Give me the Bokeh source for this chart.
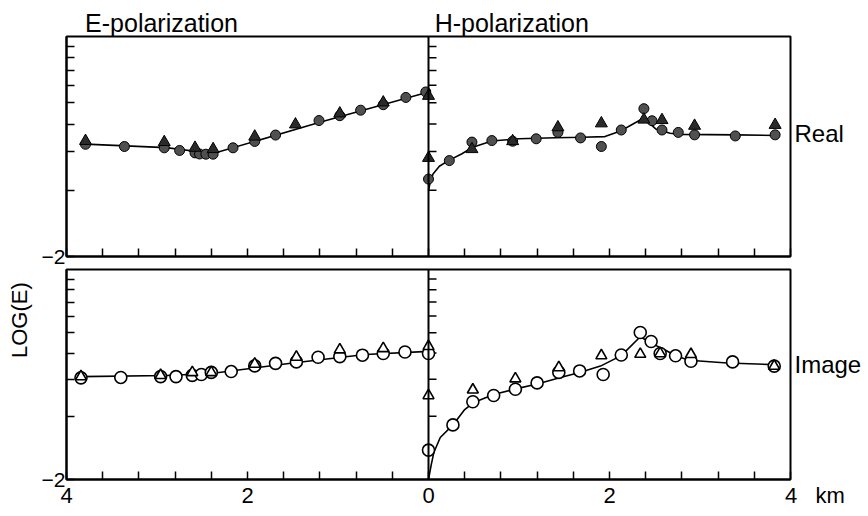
import math
from bokeh.plotting import figure
from bokeh.models import Range1d, FixedTicker, CustomJSTickFormatter, Span, LinearAxis
from bokeh.layouts import column
from bokeh.embed import file_html
from bokeh.resources import INLINE

# ---------------- data (LOG(E) values) ----------------
# Real part, E-polarization (x < 0)
real_e_circ_x = [-3.79, -3.36, -2.92, -2.75, -2.58, -2.53, -2.46, -2.38, -2.16, -1.92, -1.69, -1.21, -0.98, -0.75, -0.50, -0.25, -0.03]
real_e_circ_y = [-1.49, -1.50, -1.506, -1.518, -1.529, -1.534, -1.535, -1.535, -1.506, -1.477, -1.448, -1.382, -1.36, -1.335, -1.31, -1.277, -1.252]
real_e_tri_x = [-3.79, -2.92, -2.58, -2.38, -1.92, -1.47, -0.98, -0.50, 0.0]
real_e_tri_y = [-1.475, -1.48, -1.506, -1.512, -1.455, -1.40, -1.35, -1.30, -1.27]
real_e_curve_x = [-3.79, -2.9, -2.38, -1.2, 0.0]
real_e_curve_y = [-1.489, -1.505, -1.532, -1.39, -1.252]

# Real part, H-polarization (x > 0)
real_h_circ_x = [0.0, 0.23, 0.48, 0.70, 0.93, 1.19, 1.43, 1.68, 1.91, 2.13, 2.38, 2.47, 2.58, 2.76, 2.94, 3.39, 3.83]
real_h_circ_y = [-1.648, -1.564, -1.48, -1.473, -1.476, -1.465, -1.436, -1.461, -1.50, -1.425, -1.328, -1.383, -1.425, -1.436, -1.447, -1.452, -1.447]
real_h_tri_x = [0.0, 0.48, 0.93, 1.43, 1.91, 2.38, 2.58, 2.94, 3.83]
real_h_tri_y = [-1.552, -1.512, -1.476, -1.413, -1.395, -1.378, -1.38, -1.406, -1.402]
real_h_curve_x = [0.0, 0.02, 0.05, 0.12, 0.23, 0.37, 0.48, 0.70, 1.0, 1.4, 1.7, 1.95, 2.13, 2.25, 2.38, 2.51, 2.67, 2.8, 3.4, 3.83]
real_h_curve_y = [-1.70, -1.66, -1.625, -1.59, -1.562, -1.533, -1.505, -1.475, -1.465, -1.46, -1.458, -1.455, -1.428, -1.40, -1.37, -1.42, -1.44, -1.445, -1.447, -1.45]

# Imaginary part, E-polarization
imag_e_circ_x = [-3.84, -3.40, -2.96, -2.79, -2.61, -2.51, -2.40, -2.18, -1.92, -1.69, -1.46, -1.22, -0.98, -0.73, -0.50, -0.26, 0.0]
imag_e_circ_y = [-1.516, -1.514, -1.51, -1.51, -1.504, -1.50, -1.49, -1.486, -1.459, -1.447, -1.44, -1.418, -1.415, -1.408, -1.40, -1.393, -1.40]
imag_e_tri_x = [-3.84, -2.96, -2.61, -2.40, -1.92, -1.46, -0.98, -0.50, 0.0]
imag_e_tri_y = [-1.51, -1.504, -1.49, -1.49, -1.45, -1.417, -1.382, -1.376, -1.366]
imag_e_curve_x = [-3.84, -2.9, -2.4, -1.5, -0.7, 0.0]
imag_e_curve_y = [-1.51, -1.505, -1.495, -1.445, -1.405, -1.39]

# Imaginary part, H-polarization
imag_h_circ_x = [0.0, 0.27, 0.49, 0.72, 0.96, 1.20, 1.44, 1.67, 1.93, 2.13, 2.34, 2.46, 2.56, 2.73, 2.90, 3.36, 3.82]
imag_h_circ_y = [-1.86, -1.74, -1.63, -1.60, -1.57, -1.54, -1.49, -1.483, -1.50, -1.407, -1.30, -1.343, -1.40, -1.411, -1.437, -1.44, -1.46]
imag_h_tri_x = [0.0, 0.49, 0.96, 1.44, 1.91, 2.34, 2.56, 2.90, 3.82]
imag_h_tri_y = [-1.60, -1.573, -1.52, -1.467, -1.41, -1.403, -1.40, -1.404, -1.46]
imag_h_curve_x = [0.0, 0.03, 0.06, 0.13, 0.27, 0.4, 0.5, 0.72, 1.0, 1.2, 1.5, 1.67, 1.9, 2.13, 2.34, 2.47, 2.6, 2.73, 2.88, 3.3, 3.82]
imag_h_curve_y = [-2.0, -1.93, -1.87, -1.80, -1.74, -1.667, -1.633, -1.595, -1.565, -1.545, -1.51, -1.49, -1.46, -1.41, -1.32, -1.353, -1.38, -1.411, -1.432, -1.445, -1.453]

# axis ticks and texts
x_major_ticks = [-4, -2, 0, 2, 4]
x_minor_ticks = [-3.6, -3.2, -2.8, -2.4, -1.6, -1.2, -0.8, -0.4, 0.4, 0.8, 1.2, 1.6, 2.4, 2.8, 3.2, 3.6]
y_major_ticks = [-2]
y_minor_ticks = [math.log10(k) - 2 for k in range(2, 10)]
side_titles = ["E-polarization", "H-polarization"]
panel_names = ["Real", "Image"]
y_title = "LOG(E)"
x_unit = "km"

FONT = "'Liberation Sans', Arial, sans-serif"
NB = "\u00a0"


def bare_axis(ticks, text, **kw):
    ax = LinearAxis(ticker=FixedTicker(ticks=ticks),
                    formatter=CustomJSTickFormatter(args=dict(t=text), code="return t;"),
                    major_tick_in=0, major_tick_out=0, minor_tick_in=0, minor_tick_out=0,
                    axis_line_color=None, major_label_text_font=FONT,
                    major_label_text_color="black", **kw)
    return ax


def make_panel(frame_h, top, bottom, show_xlabels):
    p = figure(frame_width=724, frame_height=frame_h,
               x_range=Range1d(-4, 4), y_range=Range1d(-2, -1),
               output_backend="svg", toolbar_location=None,
               min_border_left=66, min_border_right=62,
               min_border_top=top, min_border_bottom=bottom)
    p.xgrid.visible = False
    p.ygrid.visible = False
    p.outline_line_color = "black"
    p.outline_line_width = 2
    p.background_fill_color = "white"
    p.border_fill_color = "white"

    xa = p.xaxis[0]
    xa.ticker = FixedTicker(ticks=x_major_ticks, minor_ticks=x_minor_ticks)
    xa.major_tick_in = 8
    xa.major_tick_out = 0
    xa.minor_tick_in = 8
    xa.minor_tick_out = 0
    xa.axis_line_width = 2
    xa.major_tick_line_width = 1.5
    xa.minor_tick_line_width = 1.5
    xa.major_label_text_font = FONT
    xa.major_label_text_color = "black"
    if show_xlabels:
        pad = NB * 8
        xa.formatter = CustomJSTickFormatter(args=dict(pad=pad, unit=NB * 3 + x_unit), code="""
            const s = Math.abs(tick).toFixed(0);
            return tick > 3.9 ? pad + s + unit : s;""")
        xa.major_label_text_font_size = "22px"
        xa.major_label_standoff = 3
    else:
        xa.formatter = CustomJSTickFormatter(code="return '';")
        xa.major_label_text_font_size = "0px"
        xa.major_label_standoff = 0

    ya = p.yaxis[0]
    ya.ticker = FixedTicker(ticks=y_major_ticks, minor_ticks=y_minor_ticks)
    ya.major_tick_in = 8
    ya.major_tick_out = 0
    ya.minor_tick_in = 8
    ya.minor_tick_out = 0
    ya.axis_line_width = 2
    ya.major_tick_line_width = 1.5
    ya.minor_tick_line_width = 1.5
    ya.major_label_text_font = FONT
    ya.major_label_text_font_size = "21px"
    ya.major_label_text_color = "black"
    ya.major_label_standoff = 1

    # the x = 0 boundary with its own inward tick marks
    p.add_layout(Span(location=0, dimension="height", line_color="black", line_width=2))
    p.ray(x=[0] * len(y_minor_ticks), y=y_minor_ticks, length=8, length_units="screen",
          angle=0, line_color="black", line_width=1.5)
    return p


# ---------------- top panel: Real ----------------
p1 = make_panel(220, 36, 12, False)
p1.line(real_e_curve_x, real_e_curve_y, line_color="black", line_width=1.6)
p1.line(real_h_curve_x, real_h_curve_y, line_color="black", line_width=1.6)
for cx, cy in [(real_e_circ_x, real_e_circ_y), (real_h_circ_x, real_h_circ_y)]:
    p1.scatter(cx, cy, marker="circle", size=10, fill_color="#505050", line_color="black", line_width=1)
for tx, ty in [(real_e_tri_x, real_e_tri_y), (real_h_tri_x, real_h_tri_y)]:
    p1.scatter(tx, ty, marker="triangle", size=12, fill_color="#2a2a2a", line_color="black", line_width=1)

title_axis = LinearAxis(ticker=FixedTicker(ticks=[-2.95, 0.92]),
                        formatter=CustomJSTickFormatter(args=dict(names=side_titles),
                                                        code="return tick < 0 ? names[0] : names[1];"),
                        major_tick_in=0, major_tick_out=0, minor_tick_in=0, minor_tick_out=0,
                        axis_line_color=None, major_label_text_font=FONT,
                        major_label_text_font_size="25px", major_label_text_color="black",
                        major_label_standoff=0)
p1.add_layout(title_axis, "above")
p1.add_layout(bare_axis([-1.44], panel_names[0], major_label_text_font_size="24px",
                        major_label_standoff=4), "right")

# ---------------- bottom panel: Image ----------------
p2 = make_panel(210, 1, 28, True)
p2.line(imag_e_curve_x, imag_e_curve_y, line_color="black", line_width=1.6)
p2.line(imag_h_curve_x, imag_h_curve_y, line_color="black", line_width=1.6)
for cx, cy in [(imag_e_circ_x, imag_e_circ_y), (imag_h_circ_x, imag_h_circ_y)]:
    p2.scatter(cx, cy, marker="circle", size=12, fill_color="white", line_color="black", line_width=1.6)
for tx, ty in [(imag_e_tri_x, imag_e_tri_y), (imag_h_tri_x, imag_h_tri_y)]:
    p2.scatter(tx, ty, marker="triangle", size=11, fill_color="white", line_color="black", line_width=1.6)

p2.add_layout(bare_axis([-1.45], panel_names[1], major_label_text_font_size="24px",
                        major_label_standoff=4), "right")
p2.add_layout(bare_axis([-1.11], y_title, major_label_text_font_size="22px",
                        major_label_orientation="vertical", major_label_standoff=6), "left")

layout = column(p1, p2, spacing=0)
open("out.html", "w").write(file_html(layout, INLINE))
